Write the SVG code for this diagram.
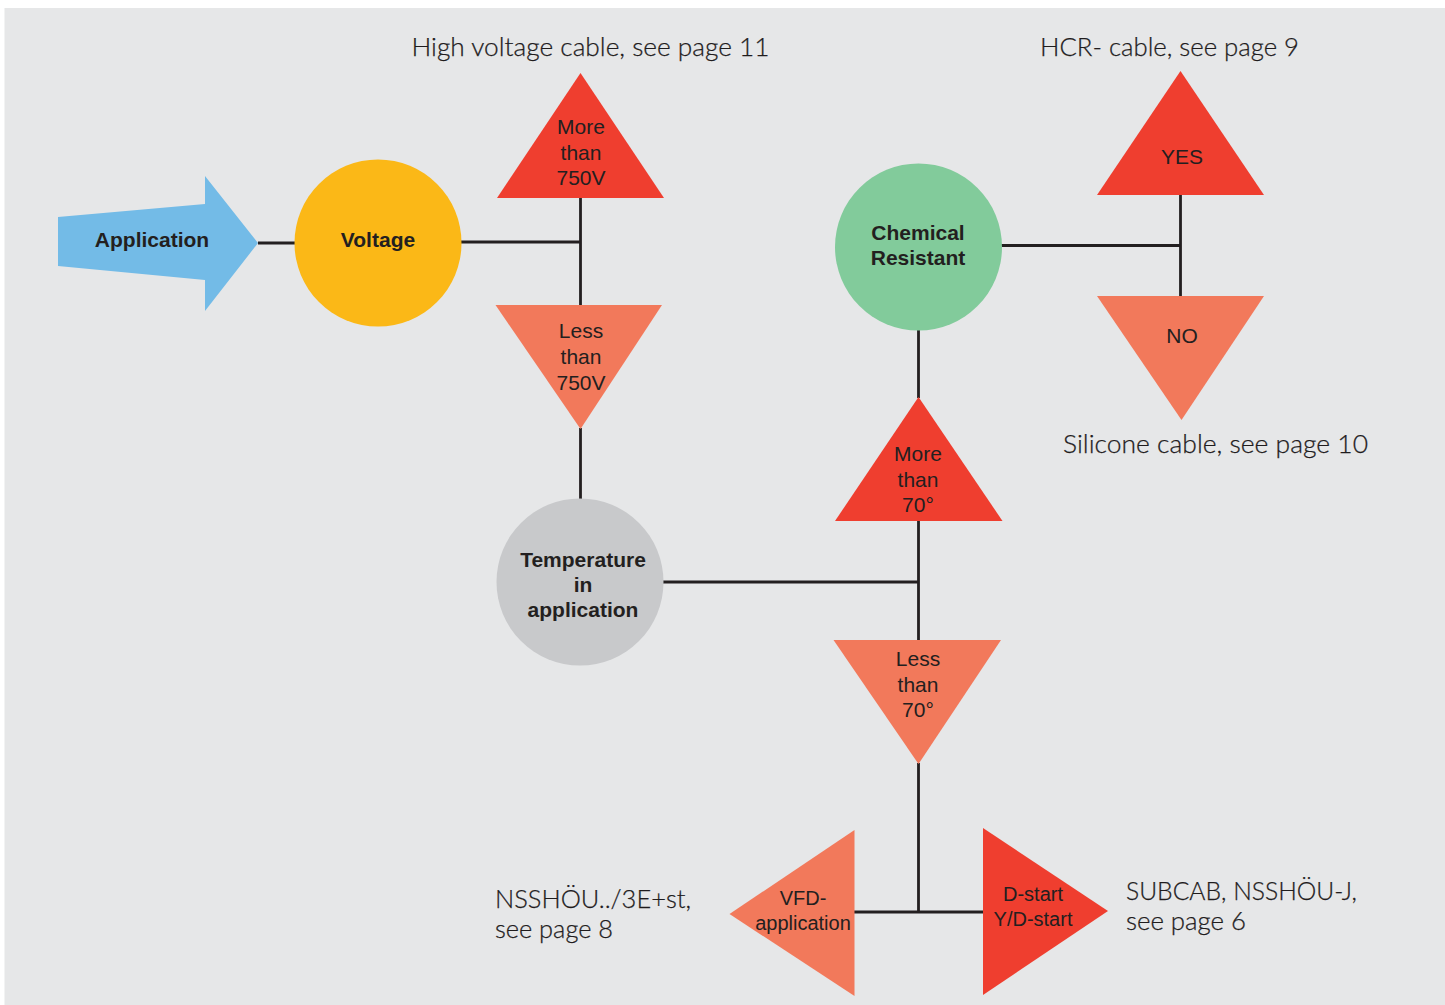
<svg xmlns="http://www.w3.org/2000/svg" width="1445" height="1005" viewBox="0 0 1445 1005">
<style>
.ln{stroke:#231f20;stroke-width:2.8;fill:none}
.b{font-family:"Liberation Sans",Arial,sans-serif;font-weight:bold;font-size:21px;fill:#231f20;text-anchor:middle}
.r{font-family:"Liberation Sans",Arial,sans-serif;font-size:21px;fill:#231f20;text-anchor:middle}
.s{font-family:"Liberation Sans",Arial,sans-serif;font-size:20px;fill:#231f20;text-anchor:middle}
.lab{font-family:Lato,"Open Sans","Liberation Sans",sans-serif;font-weight:300;font-size:25.5px;fill:#1f1c1d;stroke:#1f1c1d;stroke-width:0.25}
.red{fill:#ef3e2f}
.sal{fill:#f2795b}
</style>
<rect x="4.5" y="8" width="1441" height="997" fill="#e6e7e8"/>
<g id="connectors">
<path class="ln" d="M258,243 H296"/>
<path class="ln" d="M461,242 H581 M580.5,197 V306"/>
<path class="ln" d="M580.5,428 V499"/>
<path class="ln" d="M663,582 H919 M918.5,330 V398 M918.5,520 V641"/>
<path class="ln" d="M1001,245.5 H1181 M1180.5,194 V297"/>
<path class="ln" d="M918.5,763 V912 M854,912 H984"/>
</g>
<g id="application">
<polygon points="58,217 205,204 205,176 258,243 205,311 205,280 58,266" fill="#73bbe7"/>
<text class="b" x="152" y="247">Application</text>
</g>
<g id="voltage">
<circle cx="378" cy="243" r="83.5" fill="#fbb817"/>
<text class="b" x="378" y="247">Voltage</text>
</g>
<g id="more750">
<polygon class="red" points="580.5,73 664,198 497,198"/>
<text class="r" x="581" y="134">More</text>
<text class="r" x="581" y="159.5">than</text>
<text class="r" x="581" y="185">750V</text>
</g>
<g id="less750">
<polygon class="sal" points="495.5,305 662,305 580.5,429"/>
<text class="r" x="581" y="338">Less</text>
<text class="r" x="581" y="364">than</text>
<text class="r" x="581" y="390">750V</text>
</g>
<text class="lab" x="411.5" y="56" textLength="358" lengthAdjust="spacingAndGlyphs">High voltage cable, see page 11</text>
<g id="temperature">
<circle cx="580" cy="582" r="83.5" fill="#c8c9cb"/>
<text class="b" x="583" y="566.5">Temperature</text>
<text class="b" x="583" y="592">in</text>
<text class="b" x="583" y="617">application</text>
</g>
<g id="chemical">
<circle cx="918.5" cy="247" r="83.5" fill="#82cb9b"/>
<text class="b" x="918" y="240">Chemical</text>
<text class="b" x="918" y="265">Resistant</text>
</g>
<g id="yes">
<polygon class="red" points="1180.5,71 1264,195 1097,195"/>
<text class="r" x="1182" y="164">YES</text>
</g>
<g id="no">
<polygon class="sal" points="1097,296 1264,296 1181.5,420"/>
<text class="r" x="1182" y="343">NO</text>
</g>
<text class="lab" x="1040" y="56" textLength="259" lengthAdjust="spacingAndGlyphs">HCR- cable, see page 9</text>
<text class="lab" x="1063" y="452.5" textLength="305" lengthAdjust="spacingAndGlyphs">Silicone cable, see page 10</text>
<g id="more70">
<polygon class="red" points="918.5,397 1002.5,521 835,521"/>
<text class="r" x="918" y="461">More</text>
<text class="r" x="918" y="486.5">than</text>
<text class="r" x="918" y="511.5">70°</text>
</g>
<g id="less70">
<polygon class="sal" points="833.5,640 1001,640 918.5,764"/>
<text class="r" x="918" y="665.5">Less</text>
<text class="r" x="918" y="691.5">than</text>
<text class="r" x="918" y="716.5">70°</text>
</g>
<g id="vfd">
<polygon class="sal" points="854.5,830 854.5,996 729.5,914"/>
<text class="s" x="803" y="905">VFD-</text>
<text class="s" x="803" y="930">application</text>
</g>
<g id="dstart">
<polygon class="red" points="983,828 1108,911 983,995"/>
<text class="s" x="1033" y="901">D-start</text>
<text class="s" x="1033" y="926">Y/D-start</text>
</g>
<text class="lab" x="495" y="907.5" textLength="196" lengthAdjust="spacingAndGlyphs">NSSHÖU../3E+st,</text>
<text class="lab" x="495" y="938.3" textLength="118" lengthAdjust="spacingAndGlyphs">see page 8</text>
<text class="lab" x="1126" y="900" textLength="231" lengthAdjust="spacingAndGlyphs">SUBCAB, NSSHÖU-J,</text>
<text class="lab" x="1126" y="930" textLength="120" lengthAdjust="spacingAndGlyphs">see page 6</text>
</svg>
